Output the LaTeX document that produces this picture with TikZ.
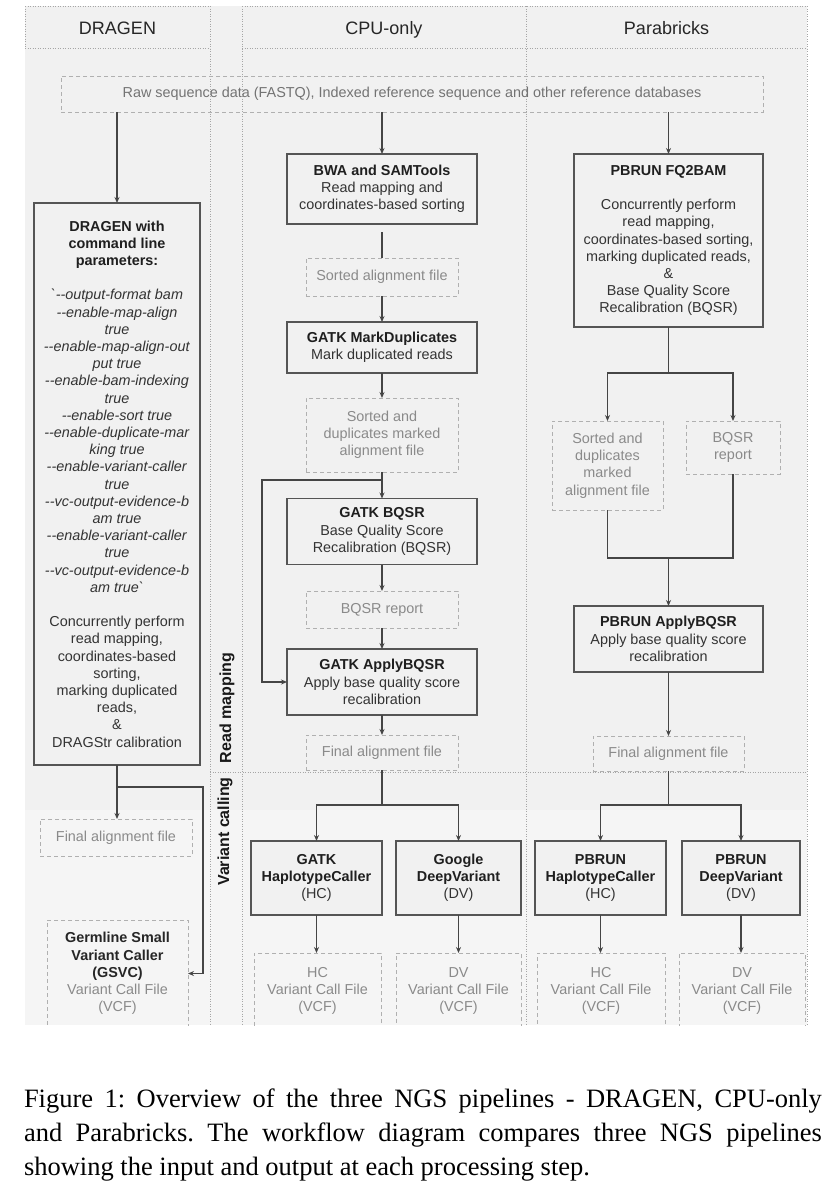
\documentclass[tikz,border=0pt]{standalone}
\usepackage{fontspec}
\setmainfont{Liberation Sans}
\newfontfamily\capfont{Liberation Serif}
\usetikzlibrary{arrows.meta}
\definecolor{panelbg}{HTML}{F1F1F1}
\definecolor{panelbgb}{HTML}{F5F5F5}
\definecolor{dotc}{HTML}{A6A6A6}
\definecolor{boxc}{HTML}{555555}
\definecolor{linec}{HTML}{454545}
\definecolor{txt}{HTML}{333333}
\definecolor{graytxt}{HTML}{8A8A8A}
\definecolor{dashc}{HTML}{B0B0B0}
\newcommand{\hd}[1]{\textbf{\color{black!88}#1}}
\newcommand{\hg}[1]{\textbf{\color{black!85}#1}}
\newcommand{\cli}[1]{\textit{#1}}
\begin{document}
\begin{tikzpicture}[x=1pt,y=-1pt,
  every node/.style={inner sep=0pt, outer sep=0pt},
  proc/.style={draw=boxc, line width=1.2pt, fill=panelbg, align=center, text=txt, font=\fontsize{14.4}{17.2}\selectfont},
  filebox/.style={draw=dashc, line width=0.9pt, dash pattern=on 4pt off 3pt, align=center, text=graytxt, font=\fontsize{14.4}{17.2}\selectfont},
  lanesep/.style={draw=dotc, line width=0.9pt, dash pattern=on 0.9pt off 1.6pt},
  conn/.style={draw=linec, line width=1.1pt},
  arr/.style={conn, -{Stealth[length=6pt,width=5pt]}},
  hdr/.style={anchor=base, font=\fontsize{18}{20}\selectfont, text=black!85},
  side/.style={font=\bfseries\fontsize{16}{18}\selectfont, rotate=90, text=black!90},
]
\useasboundingbox (0,0) rectangle (836,1200);
\begin{scope}
\clip (0,0) rectangle (836,1025);
\fill[panelbg] (25,6) rectangle (807,810);
\fill[panelbgb] (25,810) rectangle (807,1025);
% lane separators
\draw[lanesep] (25,6) -- (210,6) (242,6) -- (807,6);
\draw[lanesep] (25,48) -- (210,48) (242,48) -- (807,48);
\draw[lanesep] (25,6) -- (25,48);
\draw[lanesep] (210,6) -- (210,1025);
\draw[lanesep] (242,6) -- (242,1025);
\draw[lanesep] (526,6) -- (526,1025);
\draw[lanesep] (807,6) -- (807,1025);
\draw[lanesep] (210,772) -- (807,772);

% headers
\node[hdr] (hD) at (117.5,34) {DRAGEN};
\node[hdr] (hC) at (384,34) {CPU-only};
\node[hdr] (hP) at (666.5,34) {Parabricks};
\node[side] (lRM) at (227,708) {Read mapping};
\node[side] (lVC) at (225,831.5) {Variant calling};

% input
\node[filebox, minimum width=702, minimum height=36, text=black!55] (raw) at (412,94) {Raw sequence data (FASTQ), Indexed reference sequence and other reference databases};

% DRAGEN column
\node[proc, minimum width=166, minimum height=562] (dragen) at (117,484) {\hd{DRAGEN with}\\\hd{command line}\\\hd{parameters:}\\[17.2pt]\cli{\textasciigrave-{}-output-format bam}\\\cli{-{}-enable-map-align}\\\cli{true}\\\cli{-{}-enable-map-align-out}\\\cli{put true}\\\cli{-{}-enable-bam-indexing}\\\cli{true}\\\cli{-{}-enable-sort true}\\\cli{-{}-enable-duplicate-mar}\\\cli{king true}\\\cli{-{}-enable-variant-caller}\\\cli{true}\\\cli{-{}-vc-output-evidence-b}\\\cli{am true}\\\cli{-{}-enable-variant-caller}\\\cli{true}\\\cli{-{}-vc-output-evidence-b}\\\cli{am true\textasciigrave}\\[17.2pt]Concurrently perform\\read mapping,\\coordinates-based\\sorting,\\marking duplicated\\reads,\\\&\\DRAGStr calibration};
\node[filebox, minimum width=152, minimum height=37] (dfin) at (116,837.5) {Final alignment file};
\node[filebox, minimum width=141, minimum height=107] (gsvc) at (117.5,973.5) {\hg{Germline Small}\\\hg{Variant Caller}\\\hg{(GSVC)}\\Variant Call File\\(VCF)};

% CPU-only column
\node[proc, minimum width=190, minimum height=70] (bwa) at (382,189) {\hd{BWA and SAMTools}\\Read mapping and\\coordinates-based sorting};
\node[filebox, minimum width=152, minimum height=38] (sorted) at (382,277) {Sorted alignment file};
\node[proc, minimum width=190, minimum height=51] (md) at (382,347.5) {\hd{GATK MarkDuplicates}\\Mark duplicated reads};
\node[filebox, minimum width=152, minimum height=74] (sdm) at (382,435) {Sorted and\\duplicates marked\\alignment file};
\node[proc, minimum width=190, minimum height=66] (bqsr) at (382,531.5) {\hd{GATK BQSR}\\Base Quality Score\\Recalibration (BQSR)};
\node[filebox, minimum width=152, minimum height=37] (report) at (382,609.5) {BQSR report};
\node[proc, minimum width=190, minimum height=66] (apply) at (382,682) {\hd{GATK ApplyBQSR}\\Apply base quality score\\recalibration};
\node[filebox, minimum width=152, minimum height=35] (cfin) at (382,752.5) {Final alignment file};
\node[proc, minimum width=131, minimum height=74] (ghc) at (316.5,878) {\hd{GATK}\\\hd{HaplotypeCaller}\\(HC)};
\node[proc, minimum width=125, minimum height=74] (gdv) at (458.5,878) {\hd{Google}\\\hd{DeepVariant}\\(DV)};
\node[filebox, minimum width=127, minimum height=76] (vhc) at (317.5,991) {HC\\Variant Call File\\(VCF)};
\node[filebox, minimum width=125, minimum height=76] (vdv) at (458.5,991) {DV\\Variant Call File\\(VCF)};

% Parabricks column
\node[proc, minimum width=189, minimum height=173] (fq) at (668.5,240.5) {\hd{PBRUN FQ2BAM}\\[17.2pt]Concurrently perform\\read mapping,\\coordinates-based sorting,\\marking duplicated reads,\\\&\\Base Quality Score\\Recalibration (BQSR)};
\node[filebox, minimum width=111, minimum height=89] (psort) at (607.5,465.5) {Sorted and\\duplicates\\marked\\alignment file};
\node[filebox, minimum width=94, minimum height=53] (prep) at (733,447.5) {BQSR\\report};
\node[proc, minimum width=189, minimum height=66] (papply) at (668.5,639) {\hd{PBRUN ApplyBQSR}\\Apply base quality score\\recalibration};
\node[filebox, minimum width=151, minimum height=35] (pfin) at (668.5,753.5) {Final alignment file};
\node[proc, minimum width=131, minimum height=74] (phc) at (600.5,878) {\hd{PBRUN}\\\hd{HaplotypeCaller}\\(HC)};
\node[proc, minimum width=118, minimum height=74] (pdv) at (741,878) {\hd{PBRUN}\\\hd{DeepVariant}\\(DV)};
\node[filebox, minimum width=128, minimum height=76] (vphc) at (601,991) {HC\\Variant Call File\\(VCF)};
\node[filebox, minimum width=126, minimum height=76] (vpdv) at (742,991) {DV\\Variant Call File\\(VCF)};

% connectors: input
\draw[arr] (raw.south -| dragen.north) -- (dragen.north);
\draw[arr] (raw.south -| bwa.north) -- (bwa.north);
\draw[arr] (raw.south -| fq.north) -- (fq.north);

% DRAGEN
\coordinate (jd) at (117,787);
\coordinate (jd2) at (203,787);
\draw[arr] (dragen.south) -- (dragen.south |- dfin.north);
\draw[arr] (jd) -- (jd2) |- (gsvc.east);

% CPU-only
\draw[conn] ([yshift=-8pt]bwa.south) -- (sorted.north);
\draw[arr] (sorted.south) -- (md.north);
\draw[arr] (md.south) -- (sdm.north);
\draw[arr] (sdm.south) -- (bqsr.north);
\coordinate (j1) at (382,480);
\coordinate (b1) at (262,480);
\draw[arr] (j1) -- (b1) |- (apply.west);
\draw[arr] (bqsr.south) -- (report.north);
\draw[arr] (report.south) -- (apply.north);
\draw[arr] (apply.south) -- (cfin.north);
\coordinate (jc) at (382,805);
\draw[conn] (cfin.south) -- (jc);
\draw[arr] (jc) -| (ghc.north);
\draw[arr] (jc) -| (gdv.north);
\draw[arr] (ghc.south) -- (ghc.south |- vhc.north);
\draw[arr] (gdv.south) -- (gdv.south |- vdv.north);

% Parabricks
\coordinate (jp1) at (668.5,373);
\draw[conn] (fq.south) -- (jp1);
\draw[arr] (jp1) -| (psort.north);
\draw[arr] (jp1) -| (prep.north);
\coordinate (jp2) at (668.5,558);
\draw[conn] (psort.south) |- (jp2);
\draw[conn] (prep.south) |- (jp2);
\draw[arr] (jp2) -- (papply.north);
\draw[arr] (papply.south) -- (pfin.north);
\coordinate (jp3) at (668.5,805);
\draw[conn] (pfin.south) -- (jp3);
\draw[arr] (jp3) -| (phc.north);
\draw[arr] (jp3) -| (pdv.north);
\draw[arr] (phc.south) -- (phc.south |- vphc.north);
\draw[arr] (pdv.south) -- (pdv.south |- vpdv.north);
\end{scope}

% caption
\node[anchor=north west, text width=798pt, align=justify, font=\capfont\fontsize{26.5}{34}\selectfont] (cap) at (24,1089) {\frenchspacing\hyphenpenalty=10000 Figure 1: Overview of the three NGS pipelines - DRAGEN, CPU-only\linebreak and Parabricks. The workflow diagram compares three NGS pipelines\linebreak showing the input and output at each processing step.};
\end{tikzpicture}
\end{document}
